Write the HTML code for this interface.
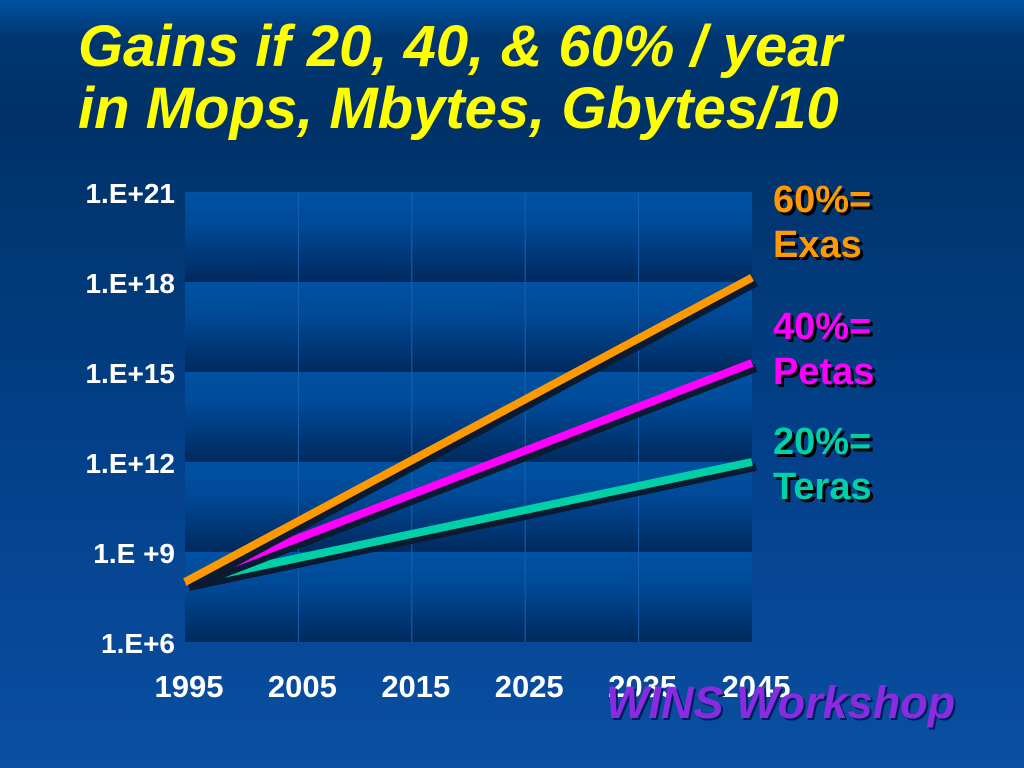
<!DOCTYPE html>
<html><head><meta charset="utf-8"><style>
html,body{margin:0;padding:0;}
body{width:1024px;height:768px;overflow:hidden;position:relative;font-family:"Liberation Sans",sans-serif;
background:linear-gradient(to bottom,#0052a2 0px,#003670 38px,#003268 120px,#03408a 450px,#0a4fa2 768px);}
.title{position:absolute;left:78px;top:16px;color:#ffff00;font-weight:bold;font-style:italic;font-size:58px;line-height:62px;white-space:nowrap;}
.lbl{position:absolute;font-weight:bold;font-size:38px;line-height:45px;text-shadow:3px 3px 0 #000;}
.footer{position:absolute;left:606px;top:677px;color:#8a2be2;font-weight:bold;font-style:italic;font-size:45px;text-shadow:2px 2px 0 #00205a;}
</style></head><body>
<div class="title">Gains if 20, 40, &amp; 60% / year<br>in Mops, Mbytes, Gbytes/10</div>
<svg id="chart" width="1024" height="768" style="position:absolute;left:0;top:0">
<defs><linearGradient id="band" x1="0" y1="0" x2="0" y2="1"><stop offset="0" stop-color="#0052a4"/><stop offset="0.35" stop-color="#004a98"/><stop offset="1" stop-color="#002a5e"/></linearGradient></defs>
<g id="plot"></g><g id="axes"></g><g id="lines"></g>
</svg>
<div class="lbl" style="left:773px;top:178px;color:#ff9900">60%=<br>Exas</div>
<div class="lbl" style="left:773px;top:305px;color:#ff00ff">40%=<br>Petas</div>
<div class="lbl" style="left:773px;top:420px;color:#00d0a8">20%=<br>Teras</div>
<div class="footer">WINS Workshop</div>
<script>
const years=[1995,2045];
const s60=[1e8,1.4e18];
const s40=[1e8,2e15];
const s20=[1e8,1e12];
const yTicks=[6,9,12,15,18,21];
const yTickLabels=["1.E+6","1.E +9","1.E+12","1.E+15","1.E+18","1.E+21"];
const xTicks=[1995,2005,2015,2025,2035,2045];
const L=185,R=752,T=192,B=642;
const x=v=>L+(v-1995)/(2045-1995)*(R-L);
const y=v=>B-(Math.log10(v)-6)/(21-6)*(B-T);
const ns="http://www.w3.org/2000/svg";
function mk(p,t,a){const e=document.createElementNS(ns,t);for(const k in a)e.setAttribute(k,a[k]);p.appendChild(e);return e;}
const plot=document.getElementById('plot'),axes=document.getElementById('axes'),lines=document.getElementById('lines');
for(let i=0;i<yTicks.length-1;i++){
 const y1=y(Math.pow(10,yTicks[i+1])),y2=y(Math.pow(10,yTicks[i]));
 const r=mk(plot,'rect',{x:L,y:y1,width:R-L,height:y2-y1,fill:'url(#band)'});
 
 
}
xTicks.slice(1,-1).forEach(v=>{
 const l=mk(plot,'line',{x1:x(v),x2:x(v),y1:T,y2:B,stroke:'#1a5fb0','stroke-width':1});
 
 
});
yTicks.forEach((t,i)=>{
 const e=mk(axes,'text',{x:175,y:y(Math.pow(10,t))+11,'text-anchor':'end',fill:'#fff','font-size':28,'font-weight':'bold','font-family':'Liberation Sans, sans-serif'});
 e.textContent=yTickLabels[i];
 
 
});
xTicks.forEach(v=>{
 const e=mk(axes,'text',{x:x(v)+4,y:697,'text-anchor':'middle',fill:'#fff','font-size':31,'font-weight':'bold','font-family':'Liberation Sans, sans-serif'});
 e.textContent=v;
 
 
});
[[s20,'#00d0a8','line-20'],[s40,'#ff00ff','line-40'],[s60,'#ff9900','line-60']].forEach(([s,c,n])=>{
 const sh=mk(lines,'line',{x1:x(years[0])+4,y1:y(s[0])+5,x2:x(years[1])+4,y2:y(s[1])+5,stroke:'#0a1a30','stroke-width':8});
 
 
 const l=mk(lines,'line',{x1:x(years[0]),y1:y(s[0]),x2:x(years[1]),y2:y(s[1]),stroke:c,'stroke-width':8});
 
 
});
</script>
</body></html>
